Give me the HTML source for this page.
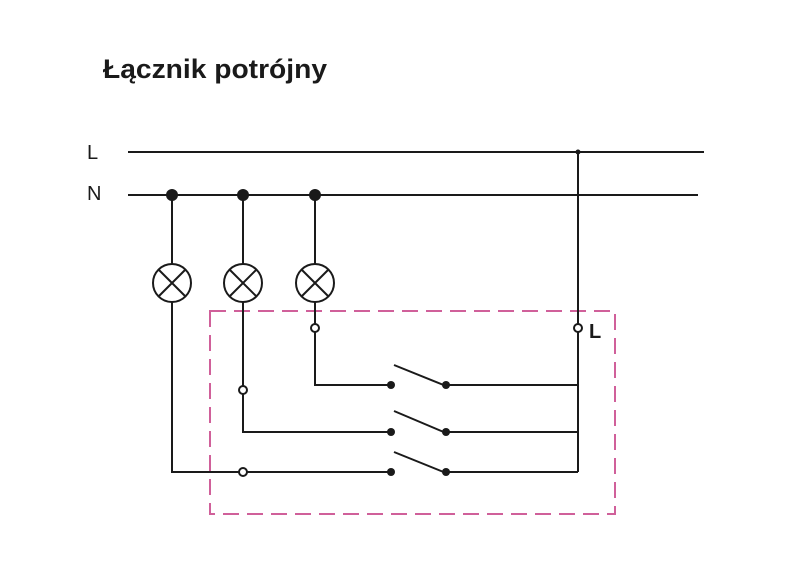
<!DOCTYPE html>
<html><head><meta charset="utf-8"><style>
body{margin:0;background:#fff;}
svg{display:block}
</style></head><body>
<svg width="800" height="566" viewBox="0 0 800 566" xmlns="http://www.w3.org/2000/svg">
<rect width="800" height="566" fill="#fff"/>
<text x="103" y="78" font-family="Liberation Sans, sans-serif" font-weight="bold" font-size="27" fill="#1a1a1a" textLength="224" lengthAdjust="spacingAndGlyphs">Łącznik potrójny</text>
<text x="87" y="159" font-family="Liberation Sans, sans-serif" font-size="20" fill="#1a1a1a">L</text>
<text x="87" y="200" font-family="Liberation Sans, sans-serif" font-size="20" fill="#1a1a1a">N</text>
<rect x="210" y="311" width="405" height="203" fill="none" stroke="#d0609a" stroke-width="2" stroke-dasharray="16,8"/>
<g stroke="#1a1a1a" stroke-width="2" fill="none">
<line x1="128" y1="152" x2="704" y2="152"/>
<line x1="128" y1="195" x2="698" y2="195"/>
<line x1="578" y1="152" x2="578" y2="472"/>
<line x1="172" y1="195" x2="172" y2="264"/>
<line x1="243" y1="195" x2="243" y2="264"/>
<line x1="315" y1="195" x2="315" y2="264"/>
<circle cx="172" cy="283" r="19"/>
<circle cx="243" cy="283" r="19"/>
<circle cx="315" cy="283" r="19"/>
<path d="M159 270l26 26M185 270l-26 26M230 270l26 26M256 270l-26 26M302 270l26 26M328 270l-26 26"/>
<polyline points="315,302 315,385 391,385"/>
<polyline points="243,302 243,432 391,432"/>
<polyline points="172,302 172,472 391,472"/>
<line x1="446" y1="385" x2="578" y2="385"/>
<line x1="446" y1="432" x2="578" y2="432"/>
<line x1="446" y1="472" x2="578" y2="472"/>
<line x1="394" y1="365" x2="446" y2="386"/>
<line x1="394" y1="411" x2="446" y2="433"/>
<line x1="394" y1="452" x2="446" y2="473"/>
</g>
<g fill="#1a1a1a">
<circle cx="172" cy="195" r="6"/><circle cx="243" cy="195" r="6"/><circle cx="315" cy="195" r="6"/>
<circle cx="578" cy="152" r="2.5"/>
<circle cx="391" cy="385" r="4"/><circle cx="446" cy="385" r="4"/>
<circle cx="391" cy="432" r="4"/><circle cx="446" cy="432" r="4"/>
<circle cx="391" cy="472" r="4"/><circle cx="446" cy="472" r="4"/>
</g>
<g fill="#fff" stroke="#1a1a1a" stroke-width="2">
<circle cx="315" cy="328" r="4"/><circle cx="243" cy="390" r="4"/><circle cx="243" cy="472" r="4"/><circle cx="578" cy="328" r="4"/>
</g>
<text x="589" y="338" font-family="Liberation Sans, sans-serif" font-weight="bold" font-size="20" fill="#1a1a1a">L</text>
</svg>
</body></html>
